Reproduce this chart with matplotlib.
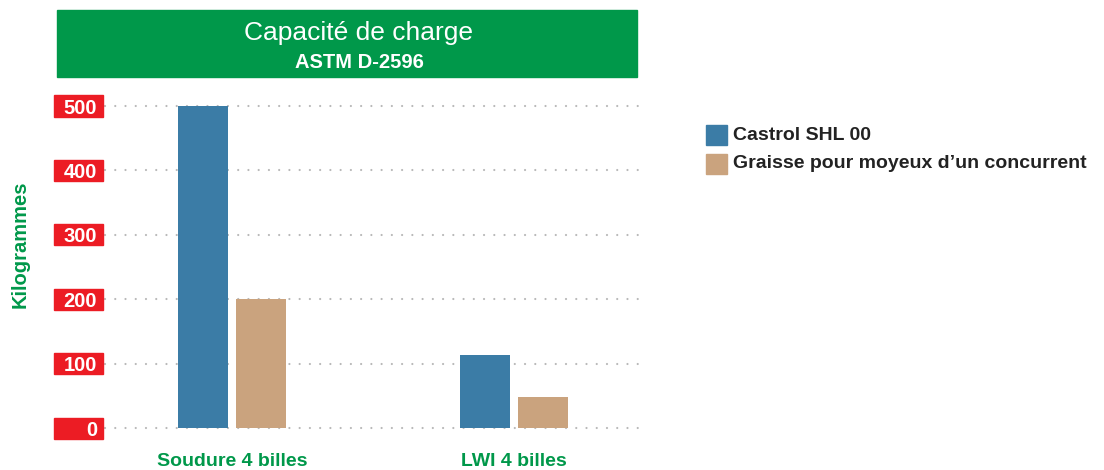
import matplotlib
matplotlib.use("Agg")
import matplotlib.pyplot as plt
from matplotlib.patches import Rectangle
from matplotlib.transforms import blended_transform_factory
import numpy as np

categories = ["Soudure 4 billes", "LWI 4 billes"]
series_names = ["Castrol SHL 00", "Graisse pour moyeux d\u2019un concurrent"]
castrol = [500, 113]
concurrent = [200, 48]
yticks = [0, 100, 200, 300, 400, 500]
title = "Capacité de charge"
subtitle = "ASTM D-2596"
ylabel = "Kilogrammes"

BLUE = "#3b7ca6"
TAN = "#caa37e"
RED = "#ec1c24"
GREEN = "#00984a"
FONT = ["Liberation Sans", "DejaVu Sans"]
plt.rcParams["font.family"] = FONT

W, H = 1104, 470
fig = plt.figure(figsize=(W / 100, H / 100), dpi=100)

def fx(px):
    return px / W

def fy(py):
    return 1 - py / H

ax = fig.add_axes([fx(105), fy(428), fx(635) - fx(105), fy(106) - fy(428)])
ax.set_xlim(-0.45, 1.429)
ax.set_ylim(0, 500)
for s in ax.spines.values():
    s.set_visible(False)
ax.set_xticks([])
ax.set_yticks([])

for t in yticks:
    ax.plot([-0.45, 1.45], [t, t], color="#b8b8b8", lw=1.6,
            linestyle=(0, (0.01, 4.6)), dash_capstyle="round", zorder=1, clip_on=False)

x = np.arange(len(categories))
w = 50 / 282
off = 29 / 282
ax.bar(x - off, castrol, width=w, color=BLUE, zorder=2, clip_on=False)
ax.bar(x + off, concurrent, width=w, color=TAN, zorder=2, clip_on=False)

# red tick label boxes
tr = blended_transform_factory(fig.transFigure, ax.transData)
box_h = 21 / 0.644
for t in yticks:
    ax.add_patch(Rectangle((fx(54), t - box_h / 2), fx(103) - fx(54), box_h,
                           transform=tr, color=RED, clip_on=False, zorder=3))
    ax.text(fx(97), t, str(t), transform=tr, ha="right", va="center_baseline",
            color="white", fontsize=14.5, fontweight="bold", zorder=4)

# x category labels
trx = blended_transform_factory(ax.transData, fig.transFigure)
for xi, c in zip(x, categories):
    ax.text(xi, fy(462), c, transform=trx, ha="center", va="center",
            color=GREEN, fontsize=14, fontweight="bold")

# y label
fig.text(fx(20), fy(244), ylabel, rotation=90, ha="center", va="center",
         color=GREEN, fontsize=14.5, fontweight="bold")

# banner
fig.patches.append(Rectangle((fx(57), fy(77)), fx(637) - fx(57), fy(10) - fy(77),
                             transform=fig.transFigure, color=GREEN, zorder=0))
fig.text(fx(359), fy(33), title, ha="center", va="center", color="white", fontsize=19)
fig.text(fx(359), fy(63), subtitle, ha="center", va="center", color="white",
         fontsize=14.5, fontweight="bold")

# legend
for i, (name, col) in enumerate(zip(series_names, [BLUE, TAN])):
    yc = 135 + i * 29
    fig.patches.append(Rectangle((fx(706), fy(yc + 10)), fx(727) - fx(706), fy(yc - 10) - fy(yc + 10),
                                 transform=fig.transFigure, color=col))
    fig.text(fx(733), fy(yc), name, ha="left", va="center", color="#222222",
             fontsize=14, fontweight="bold")

fig.savefig("out.png", dpi=100)
